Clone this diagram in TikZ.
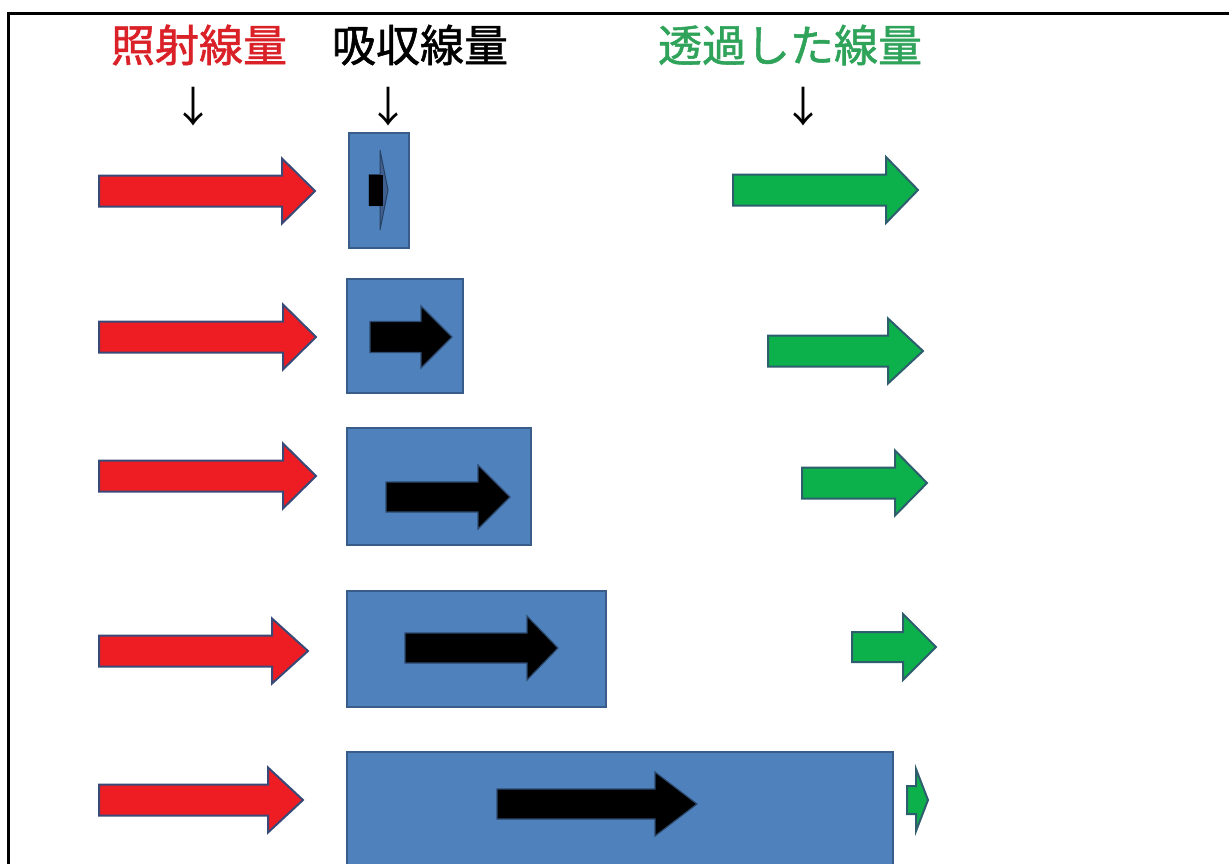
\documentclass[tikz,border=0pt]{standalone}
\usepackage{fontspec}
\newfontfamily\jpfont[FakeBold=1.2]{Noto Sans CJK JP}
\newfontfamily\jpplain{Noto Sans CJK JP}
\definecolor{redfill}{HTML}{EE1D23}
\definecolor{greenfill}{HTML}{0DB14B}
\definecolor{bluefill}{HTML}{4F81BD}
\definecolor{blueline}{HTML}{385D8A}
\definecolor{arrline}{HTML}{3A4A78}
\definecolor{greenline}{HTML}{2E5E6E}
\definecolor{redtext}{HTML}{DA2128}
\definecolor{greentext}{HTML}{2FA35A}
\definecolor{headblue}{HTML}{3F5F90}
\newcommand{\barrow}[7]{%
  \draw[#1] ({#2},{#5-#6}) -- ({#3},{#5-#6}) -- ({#3},{#5-#7}) -- ({#4},{#5})
    -- ({#3},{#5+#7}) -- ({#3},{#5+#6}) -- ({#2},{#5+#6}) -- cycle;}
\tikzset{
  redarrow/.style={fill=redfill,draw=arrline,line width=2pt,line join=miter},
  greenarrow/.style={fill=greenfill,draw=greenline,line width=2pt,line join=miter},
  blackarrow/.style={fill=black,draw=blueline!80!black,line width=1.2pt,line join=miter},
  absorber/.style={fill=bluefill,draw=blueline,line width=1.8pt},
  header/.style={font=\jpfont\fontsize{44}{44}\selectfont,inner sep=0pt,anchor=center},
  downarrow/.style={font=\jpplain\fontsize{42}{42}\selectfont,inner sep=0pt,anchor=center}
}
\begin{document}
\begin{tikzpicture}[x=1pt,y=-1pt]
\useasboundingbox (0,0) rectangle (1229,863);
\fill[white] (0,0) rectangle (1229,863);
% frame
\draw[line width=3pt] (8,870) -- (8,13) -- (1235,13);
% headers
\node[header,text=redtext] (h1) at (199,45) {照射線量};
\node[header,text=black] (h2) at (420,45) {吸収線量};
\node[header,text=greentext] (h3) at (790,45) {透過した線量};
\node[downarrow] (d1) at (193,107) {↓};
\node[downarrow] (d2) at (388,107) {↓};
\node[downarrow] (d3) at (803,107) {↓};
% absorbers
\draw[absorber] (349,133) rectangle (409,248);
\draw[absorber] (347,279) rectangle (463,393);
\draw[absorber] (347,428) rectangle (531,545);
\draw[absorber] (347,591) rectangle (606,707);
\draw[absorber] (347,752) rectangle (893,875);
% incident
\barrow{redarrow}{99}{282}{315}{191}{15.5}{32.5}
\barrow{redarrow}{99}{283}{316}{337}{15.5}{32.5}
\barrow{redarrow}{99}{283}{316}{476}{15.5}{32.5}
\barrow{redarrow}{99}{272}{308}{651}{15.5}{32.5}
\barrow{redarrow}{99}{268}{303}{800}{15.5}{32.5}
% absorbed
\barrow{fill=headblue,draw=blueline!70!black,line width=1pt}{369}{380}{388}{190}{15.5}{40}
\fill[black] (369,174.5) rectangle (383,205.5);
\barrow{blackarrow}{370}{421}{452}{337}{15.5}{31}
\barrow{blackarrow}{386}{478}{510}{497}{15}{32}
\barrow{blackarrow}{405}{527}{558}{648}{15}{32}
\barrow{blackarrow}{497}{655}{697}{804}{15}{32}
% transmitted
\barrow{greenarrow}{733}{886}{918}{190}{15.5}{33}
\barrow{greenarrow}{768}{888}{923}{351}{15.5}{32.5}
\barrow{greenarrow}{802}{895}{927}{483}{15.5}{32.5}
\barrow{greenarrow}{852}{903}{936}{647}{15}{33}
\barrow{greenarrow}{907}{916}{928}{800}{14}{31}
\end{tikzpicture}
\end{document}
